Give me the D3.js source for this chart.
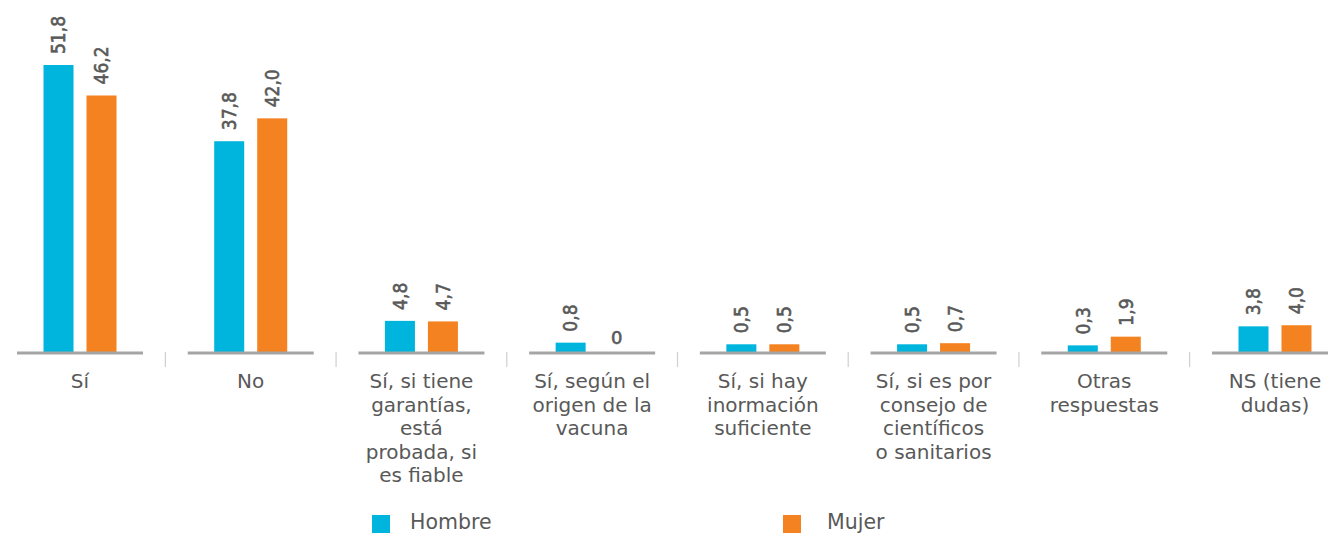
<!DOCTYPE html>
<html>
<head>
<meta charset="utf-8">
<script src="https://cdn.jsdelivr.net/npm/d3@7"></script>
<style>
  html, body { margin: 0; padding: 0; background: #ffffff; }
  svg { display: block; }
</style>
</head>
<body>
<svg id="chart" width="1328" height="534"></svg>
<script>
// ---- data ----
const categories = [
  "Sí",
  "No",
  "Sí, si tiene\ngarantías,\nestá\nprobada, si\nes fiable",
  "Sí, según el\norigen de la\nvacuna",
  "Sí, si hay\ninormación\nsuficiente",
  "Sí, si es por\nconsejo de\ncientíficos\no sanitarios",
  "Otras\nrespuestas",
  "NS (tiene\ndudas)"
];
const seriesNames = ["Hombre", "Mujer"];
const hombre = [51.8, 37.8, 4.8, 0.8, 0.5, 0.5, 0.3, 3.8];
const mujer  = [46.2, 42.0, 4.7, 0, 0.5, 0.7, 1.9, 4.0];
const colors = ["#00b5dd", "#f58220"];

// ---- layout ----
const W = 1328, H = 534;
const baseY = 353;
const svg = d3.select("#chart");
const textColor = "#595959";
const font = "'DejaVu Sans', Verdana, sans-serif";

const x0 = d3.scaleBand().domain(categories).range([-5.35, 1360.35]).padding(0);
const x1 = d3.scaleBand().domain(seriesNames).range([-36.5, 36.5]).paddingInner(0.302).paddingOuter(0);
const y = d3.scaleLinear().domain([-1.1, 51.8]).range([baseY, 65]);

const center = c => x0(c) + x0.bandwidth() / 2;

const rows = categories.map((c, i) => ({ cat: c, vals: [hombre[i], mujer[i]] }));
const fmt = v => v === 0 ? "0" : d3.format(".1f")(v).replace(".", ",");

// separators between groups
svg.append("g").selectAll("line")
  .data(categories.slice(1))
  .join("line")
  .attr("x1", c => x0(c)).attr("x2", c => x0(c))
  .attr("y1", baseY - 1).attr("y2", baseY + 14)
  .attr("stroke", "#cfcfcf").attr("stroke-width", 1.2);

// bars
const g = svg.append("g").selectAll("g")
  .data(rows).join("g")
  .attr("transform", d => `translate(${center(d.cat)},0)`);

const items = g.selectAll("g.item")
  .data(d => d.vals.map((v, k) => ({ v, s: seriesNames[k], k })))
  .join("g").attr("class", "item");

items.filter(d => d.v > 0).append("rect")
  .attr("x", d => x1(d.s))
  .attr("width", x1.bandwidth())
  .attr("y", d => y(d.v))
  .attr("height", d => baseY - y(d.v))
  .attr("fill", d => colors[d.k]);

// value labels (rotated), zero label upright
items.filter(d => d.v > 0).append("text")
  .attr("transform", d => `translate(${x1(d.s) + x1.bandwidth() / 2},${y(d.v) - 11}) rotate(-90) scale(0.9,1)`)
  .attr("dy", "0.36em")
  .attr("text-anchor", "start")
  .attr("font-family", font).attr("font-size", 19)
  .attr("fill", textColor)
  .attr("stroke", textColor).attr("stroke-width", 0.6)
  .text(d => fmt(d.v));

items.filter(d => d.v === 0).append("text")
  .attr("x", d => x1(d.s) + x1.bandwidth() / 2 + 3)
  .attr("y", y(0) - 3)
  .attr("text-anchor", "middle")
  .attr("font-family", font).attr("font-size", 18)
  .attr("fill", textColor)
  .attr("stroke", textColor).attr("stroke-width", 0.6)
  .text(d => fmt(d.v));

// baseline segments
svg.append("g").selectAll("line")
  .data(categories)
  .join("line")
  .attr("x1", c => center(c) - 63).attr("x2", c => center(c) + 63)
  .attr("y1", baseY).attr("y2", baseY)
  .attr("stroke", "#a5a5a5").attr("stroke-width", 3);

// category labels
svg.append("g").selectAll("text")
  .data(categories)
  .join("text")
  .attr("x", c => center(c))
  .attr("y", 388)
  .attr("text-anchor", "middle")
  .attr("font-family", font).attr("font-size", 20)
  .attr("fill", textColor)
  .each(function(c) {
    const t = d3.select(this);
    c.split("\n").forEach((line, i) => {
      t.append("tspan").attr("x", center(c)).attr("dy", i === 0 ? 0 : 23.6).text(line);
    });
  });

// legend
const legendX = [372, 783];
const lg = svg.append("g").selectAll("g")
  .data(seriesNames).join("g");
lg.append("rect")
  .attr("x", (d, i) => legendX[i]).attr("y", 515)
  .attr("width", 18).attr("height", 18)
  .attr("fill", (d, i) => colors[i]);
lg.append("text")
  .attr("x", (d, i) => legendX[i] + (i === 0 ? 38 : 44)).attr("y", 529)
  .attr("font-family", font).attr("font-size", 20.5)
  .attr("fill", textColor)
  .text(d => d);
</script>
</body>
</html>
